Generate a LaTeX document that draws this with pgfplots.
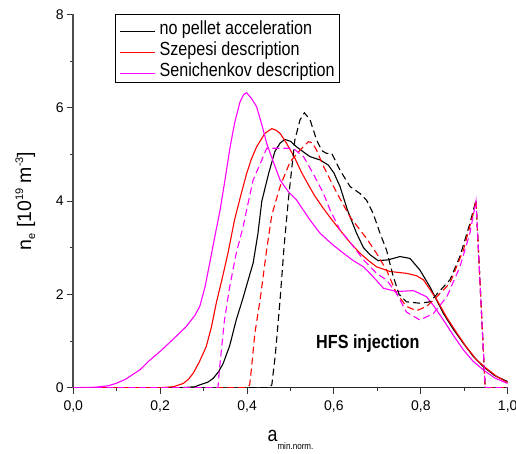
\documentclass[border=0pt]{standalone}
\usepackage{fontspec}
\setmainfont{Liberation Sans}
\newfontfamily\nf{Liberation Sans}[FakeStretch=0.85]
\usepackage{pgfplots}
\pgfplotsset{compat=1.18}
\definecolor{mag}{RGB}{255,0,255}
\definecolor{rd}{RGB}{255,0,0}
\begin{document}
\begin{tikzpicture}
\begin{axis}[
  at={(0,0)}, anchor=south west,
  scale only axis, width=434.4pt, height=373.4pt,
  xmin=0, xmax=1, ymin=0, ymax=8,
  axis x line*=bottom, axis y line*=left,
  axis line style={-},
  x axis line style={line width=0.9pt, draw=black!85},
  y axis line style={line width=1.8pt, draw=black!70},
  tick align=outside,
  major tick length=6pt, minor tick length=3.5pt,
  tick style={black!80, line width=0.9pt},
  xtick={0,0.2,0.4,0.6,0.8,1.0}, ytick={0,2,4,6,8},
  minor x tick num=1, minor y tick num=1,
  /pgf/number format/assume math mode=true,
  ticklabel style={font=\fontsize{14}{15}\selectfont},
  xticklabel style={yshift=-3pt, /pgf/number format/.cd, fixed, fixed zerofill, precision=1, use comma},
  yticklabel style={/pgf/number format/.cd, fixed, precision=0},
  xlabel={{\nf\fontsize{21}{22}\selectfont a}\raisebox{-8pt}{\nf\fontsize{9.5}{10}\selectfont min.norm.}},
  xlabel style={at={(axis description cs:0.5,-0.1446)}, anchor=base},
  ylabel={\fontsize{19.5}{20}\selectfont n\raisebox{-4pt}{\fontsize{11}{11}\selectfont e} [10\raisebox{8pt}{\fontsize{11}{11}\selectfont 19} m\raisebox{8pt}{\fontsize{11}{11}\selectfont -3}]},
  ylabel style={at={(axis description cs:-0.1105,0.5)}, anchor=center},
  legend style={at={(axis description cs:0.096,1)}, anchor=north west,
    draw=black, line width=0.9pt, font=\nf\fontsize{19}{20}\selectfont,
    inner xsep=4pt, inner ysep=3.5pt, row sep=1.6pt, column sep=3pt,
    nodes={inner sep=1pt, text height=15pt, text depth=2.3pt}},
  legend cell align=left,
  legend image code/.code={\draw[#1, line width=1.1pt] (0pt,-3.4pt) -- (35pt,-3.4pt);},
  every axis plot/.append style={line width=1.1pt},
]
% solid lines
\addplot[black] coordinates {
(0,0) (0.25,0) (0.28,0.02) (0.291,0.06) (0.31,0.12) (0.322,0.2) (0.335,0.35) (0.345,0.52) (0.36,0.9) (0.375,1.45) (0.39,1.9) (0.398,2.16) (0.414,2.67) (0.425,3.3) (0.434,4.0) (0.45,4.6) (0.464,5.06) (0.476,5.24) (0.487,5.32) (0.50,5.28) (0.514,5.16) (0.53,5.05) (0.545,4.95) (0.568,4.88) (0.587,4.77) (0.60,4.6) (0.614,4.31) (0.631,3.81) (0.652,3.31) (0.668,3.0) (0.683,2.85) (0.702,2.72) (0.725,2.74) (0.752,2.81) (0.775,2.77) (0.798,2.52) (0.821,2.16) (0.852,1.59) (0.875,1.25) (0.898,0.95) (0.92,0.68) (0.944,0.45) (0.97,0.26) (1.0,0.13)
};
\addlegendentry{no pellet acceleration}
\addplot[rd] coordinates {
(0,0) (0.2,0) (0.23,0.02) (0.253,0.09) (0.265,0.18) (0.276,0.31) (0.29,0.55) (0.306,0.88) (0.318,1.3) (0.329,1.81) (0.343,2.35) (0.356,2.88) (0.371,3.59) (0.385,4.1) (0.399,4.59) (0.41,4.9) (0.422,5.16) (0.441,5.45) (0.457,5.55) (0.466,5.52) (0.476,5.45) (0.49,5.25) (0.51,4.92) (0.525,4.62) (0.541,4.35) (0.555,4.12) (0.575,3.85) (0.595,3.6) (0.618,3.33) (0.638,3.1) (0.66,2.88) (0.68,2.72) (0.698,2.59) (0.729,2.49) (0.767,2.45) (0.79,2.4) (0.806,2.31) (0.82,2.12) (0.837,1.88) (0.86,1.5) (0.883,1.17) (0.905,0.87) (0.929,0.59) (0.95,0.42) (0.975,0.24) (1.0,0.11)
};
\addlegendentry{Szepesi description}
\addplot[mag] coordinates {
(0,0) (0.05,0.01) (0.08,0.04) (0.099,0.094) (0.12,0.18) (0.153,0.38) (0.175,0.58) (0.199,0.77) (0.23,1.04) (0.26,1.31) (0.28,1.55) (0.291,1.74) (0.303,2.15) (0.314,2.67) (0.325,3.2) (0.338,3.81) (0.35,4.5) (0.361,5.16) (0.372,5.7) (0.384,6.13) (0.392,6.28) (0.399,6.32) (0.41,6.2) (0.422,6.02) (0.435,5.6) (0.445,5.24) (0.46,4.85) (0.476,4.45) (0.495,4.2) (0.514,4.02) (0.545,3.59) (0.568,3.31) (0.595,3.08) (0.622,2.88) (0.645,2.72) (0.668,2.59) (0.69,2.38) (0.714,2.13) (0.744,2.06) (0.783,2.08) (0.813,1.95) (0.83,1.75) (0.852,1.45) (0.875,1.12) (0.898,0.81) (0.92,0.57) (0.944,0.38) (0.97,0.21) (1.0,0.09)
};
\addlegendentry{Senichenkov description}
% dashed lines
\addplot[black, dash pattern=on 7pt off 4pt, forget plot] coordinates {
(0,0) (0.45,0) (0.457,0.06) (0.465,0.7) (0.476,1.88) (0.485,3.0) (0.495,4.02) (0.51,5.31) (0.522,5.74) (0.532,5.89) (0.545,5.74) (0.56,5.31) (0.572,5.08) (0.583,5.02) (0.595,5.02) (0.614,4.66) (0.637,4.31) (0.66,4.16) (0.675,4.02) (0.69,3.74) (0.706,3.31) (0.721,2.95) (0.736,2.4) (0.75,2.0) (0.767,1.84) (0.798,1.81) (0.821,1.84) (0.852,2.16) (0.867,2.31) (0.89,2.81) (0.913,3.52) (0.927,4.02) (0.948,0.02) (0.95,0) (1.0,0)
};
\addplot[rd, dash pattern=on 7pt off 4pt, forget plot] coordinates {
(0,0) (0.4,0) (0.406,0.06) (0.41,0.4) (0.418,1.17) (0.43,1.88) (0.445,2.95) (0.457,3.7) (0.476,4.31) (0.499,4.84) (0.522,5.09) (0.541,5.27) (0.55,5.25) (0.56,5.09) (0.576,4.74) (0.599,4.31) (0.614,4.05) (0.637,3.66) (0.66,3.38) (0.675,3.2) (0.698,2.88) (0.721,2.52) (0.744,2.02) (0.767,1.74) (0.79,1.65) (0.813,1.74) (0.837,1.95) (0.867,2.24) (0.898,2.95) (0.921,3.74) (0.927,4.02) (0.948,0.02) (0.95,0) (1.0,0)
};
\addplot[mag, dash pattern=on 7pt off 4pt, forget plot] coordinates {
(0,0) (0.333,0) (0.337,0.45) (0.348,1.45) (0.36,2.16) (0.375,2.88) (0.391,3.45) (0.399,3.81) (0.414,4.45) (0.434,4.88) (0.445,5.13) (0.506,5.13) (0.53,4.95) (0.552,4.59) (0.576,4.16) (0.591,3.81) (0.614,3.38) (0.637,3.12) (0.668,2.74) (0.698,2.45) (0.721,2.31) (0.744,2.02) (0.767,1.62) (0.798,1.45) (0.829,1.59) (0.86,1.95) (0.89,2.59) (0.913,3.31) (0.927,4.0) (0.948,0.02) (0.95,0) (1.0,0)
};
\node[anchor=base] at (axis cs:0.678,0.844) {\nf\bfseries\fontsize{19}{20}\selectfont HFS injection};
\end{axis}
\pgfresetboundingbox
\path (-73.3pt,-66.3pt) rectangle (442.7pt,387.7pt);
\end{tikzpicture}
\end{document}
